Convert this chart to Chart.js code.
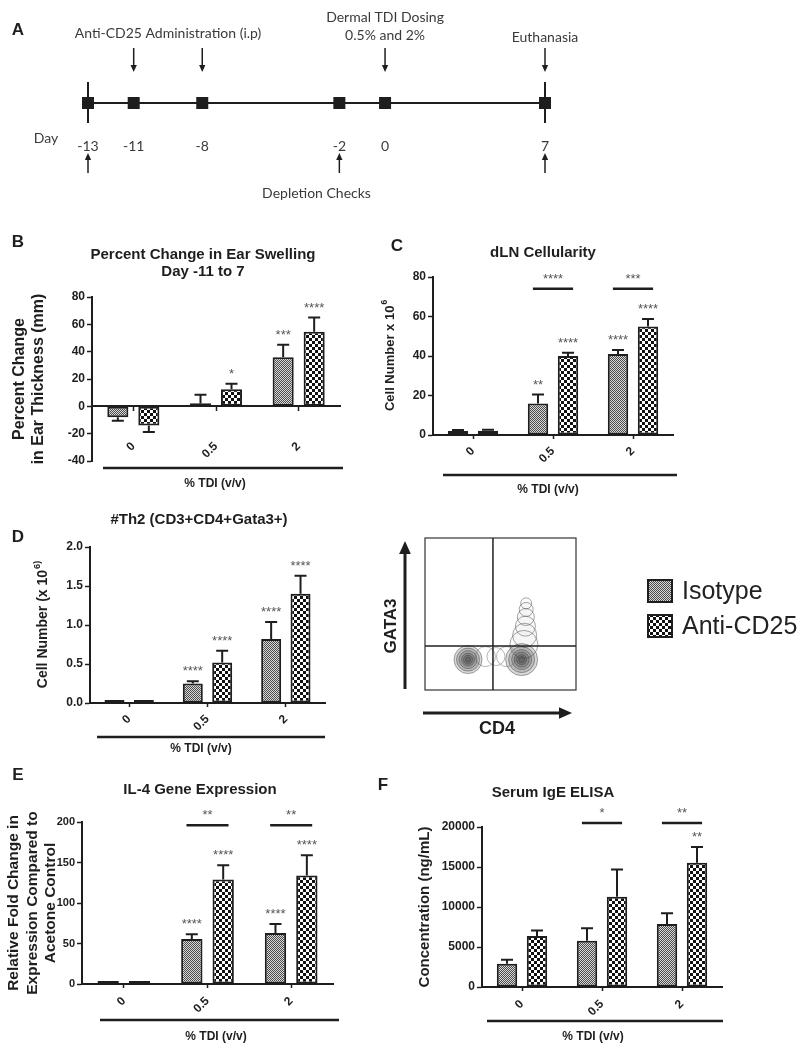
<!DOCTYPE html>
<html>
<head>
<meta charset="utf-8">
<script src="https://cdn.jsdelivr.net/npm/chart.js@4.4.1/dist/chart.umd.min.js"></script>
<style>
  html, body { margin: 0; padding: 0; background: #fff; }
  #fig { position: relative; width: 800px; height: 1048px; overflow: hidden; }
  #fig canvas { position: absolute; }
</style>
</head>
<body>
<div id="fig"></div>
<script>
// ---------- data ----------
const doses = ['0', '0.5', '2'];

// A: study timeline
const days = [-13, -11, -8, -2, 0, 7];
const antiCd25Days = [-11, -8];
const dosingDays = [0];
const euthanasiaDays = [7];
const checkDays = [-13, -2, 7];

// B: percent change in ear swelling
const swellIso = [-8, 2, 36];
const swellIsoSem = [2.5, 6.5, 9];
const swellAnti = [-14, 12.5, 54.5];
const swellAntiSem = [4.8, 4, 10.5];
const swellIsoStars = ['', '', '***'];
const swellAntiStars = ['', '*', '****'];

// C: dLN cellularity
const cellIso = [2, 16, 41];
const cellIsoSem = [0.5, 4.5, 2];
const cellAnti = [2.2, 40, 55];
const cellAntiSem = [0.5, 1.6, 3.7];
const cellIsoStars = ['', '**', '****'];
const cellAntiStars = ['', '****', '****'];
const cellSig = [{ dose: 1, y: 74, text: '****' }, { dose: 2, y: 74, text: '***' }];

// D: Th2 cells
const th2Iso = [0.01, 0.25, 0.82];
const th2IsoSem = [0, 0.03, 0.22];
const th2Anti = [0.01, 0.52, 1.40];
const th2AntiSem = [0, 0.15, 0.23];
const th2IsoStars = ['', '****', '****'];
const th2AntiStars = ['', '****', '****'];

// E: IL-4 gene expression
const il4Iso = [1, 55.5, 63];
const il4IsoSem = [0, 6, 11];
const il4Anti = [1, 129, 134];
const il4AntiSem = [0, 17.5, 25];
const il4IsoStars = ['', '****', '****'];
const il4AntiStars = ['', '****', '****'];
const il4Sig = [{ dose: 1, y: 196, text: '**' }, { dose: 2, y: 196, text: '**' }];

// F: serum IgE
const igeIso = [2900, 5770, 7880];
const igeIsoSem = [500, 1570, 1330];
const igeAnti = [6390, 11290, 15520];
const igeAntiSem = [660, 3400, 1990];
const igeIsoStars = ['', '', ''];
const igeAntiStars = ['', '', '**'];
const igeSig = [{ dose: 1, y: 20500, text: '*' }, { dose: 2, y: 20500, text: '**' }];

// flow plot populations (x = CD4, y = GATA3, scaled 0..1; r in px)
const flowGate = { x: 0.45, y: 0.29 };
const flowCd4Neg = [
  { x: 0.285, y: 0.2, r: 14 }, { x: 0.285, y: 0.2, r: 11.5 }, { x: 0.285, y: 0.2, r: 9 },
  { x: 0.285, y: 0.2, r: 6.5 }, { x: 0.285, y: 0.2, r: 4.5 }, { x: 0.285, y: 0.2, r: 2.5 }
];
const flowCd4Pos = [
  { x: 0.64, y: 0.2, r: 16 }, { x: 0.64, y: 0.2, r: 13 }, { x: 0.64, y: 0.2, r: 10 },
  { x: 0.64, y: 0.2, r: 7.5 }, { x: 0.64, y: 0.2, r: 5 }, { x: 0.64, y: 0.2, r: 3 }
];
const flowTail = [
  { x: 0.655, y: 0.30, r: 14 }, { x: 0.66, y: 0.36, r: 12 }, { x: 0.665, y: 0.42, r: 10 },
  { x: 0.668, y: 0.48, r: 8.5 }, { x: 0.67, y: 0.53, r: 7 }, { x: 0.67, y: 0.57, r: 5.5 }
];
const flowBridge = [
  { x: 0.40, y: 0.22, r: 10 }, { x: 0.47, y: 0.22, r: 9 }, { x: 0.54, y: 0.22, r: 10 }
];

// ---------- helpers ----------
const ink = '#1e1e1e';
const arial = '"Liberation Sans", Arial, sans-serif';
const bold = s => `bold ${s}px ${arial}`;
Chart.defaults.font.family = arial;
const fig = document.getElementById('fig');

function place(box) {
  const c = document.createElement('canvas');
  c.width = box[2]; c.height = box[3];
  c.style.left = box[0] + 'px'; c.style.top = box[1] + 'px';
  c.style.width = box[2] + 'px'; c.style.height = box[3] + 'px';
  fig.appendChild(c);
  return c;
}

function checker(ctx, cell, dark, light) {
  const t = document.createElement('canvas');
  t.width = t.height = cell * 2;
  const g = t.getContext('2d');
  g.fillStyle = light; g.fillRect(0, 0, cell * 2, cell * 2);
  g.fillStyle = dark; g.fillRect(0, 0, cell, cell); g.fillRect(cell, cell, cell, cell);
  return ctx.createPattern(t, 'repeat');
}
const isoFill = ctx => checker(ctx, 1, '#4a4a4a', '#dadada');
const antiFill = ctx => checker(ctx, 3, '#111', '#fff');

function txt(ctx, s, x, y, font, align, base, color) {
  ctx.font = font;
  ctx.textAlign = align || 'center';
  ctx.textBaseline = base || 'middle';
  ctx.fillStyle = color || ink;
  ctx.fillText(s, x, y);
}

// rotated text, '^' marks a superscript tail
function vText(ctx, s, x, y, size) {
  const parts = s.split('^');
  ctx.save();
  ctx.translate(x, y);
  ctx.rotate(-Math.PI / 2);
  ctx.font = bold(size);
  const w0 = ctx.measureText(parts[0]).width;
  ctx.font = bold(size * 0.65);
  const w1 = parts[1] ? ctx.measureText(parts[1]).width : 0;
  const x0 = -(w0 + w1) / 2;
  txt(ctx, parts[0], x0, 0, bold(size), 'left');
  if (parts[1]) txt(ctx, parts[1], x0 + w0 + 1, -size * 0.42, bold(size * 0.65), 'left');
  ctx.restore();
}

function arrow(ctx, x1, y1, x2, y2, lw, head) {
  const a = Math.atan2(y2 - y1, x2 - x1);
  ctx.strokeStyle = ink; ctx.fillStyle = ink; ctx.lineWidth = lw;
  ctx.beginPath();
  ctx.moveTo(x1, y1);
  ctx.lineTo(x2 - Math.cos(a) * head * 0.8, y2 - Math.sin(a) * head * 0.8);
  ctx.stroke();
  ctx.beginPath();
  ctx.moveTo(x2, y2);
  ctx.lineTo(x2 - Math.cos(a) * head - Math.sin(a) * head * 0.45, y2 - Math.sin(a) * head + Math.cos(a) * head * 0.45);
  ctx.lineTo(x2 - Math.cos(a) * head + Math.sin(a) * head * 0.45, y2 - Math.sin(a) * head - Math.cos(a) * head * 0.45);
  ctx.closePath();
  ctx.fill();
}

// ---------- A: timeline ----------
(function () {
  const box = [0, 0, 800, 215];
  const canvas = place(box);
  const tl = '#3a3a3a';
  const lato = s => `${s}px Lato, "Open Sans", sans-serif`;
  const deco = {
    id: 'timelineDeco',
    afterDraw(chart) {
      const ctx = chart.ctx, xs = chart.scales.x;
      const px = d => xs.getPixelForValue(d);
      ctx.save();
      txt(ctx, 'A', 18, 30, bold(17));
      txt(ctx, 'Day', 46, 138, lato(14), 'center', 'middle', tl);
      antiCd25Days.concat(dosingDays, euthanasiaDays).forEach(d => arrow(ctx, px(d), 48, px(d), 72, 1.5, 7));
      checkDays.forEach(d => arrow(ctx, px(d), 173, px(d), 153, 1.5, 7));
      [days[0], days[days.length - 1]].forEach(d => {
        ctx.strokeStyle = ink; ctx.lineWidth = 2;
        ctx.beginPath(); ctx.moveTo(px(d), 82); ctx.lineTo(px(d), 123); ctx.stroke();
      });
      const midAnti = (px(antiCd25Days[0]) + px(antiCd25Days[1])) / 2;
      txt(ctx, 'Anti-CD25 Administration (i.p)', midAnti, 33, lato(14), 'center', 'middle', tl);
      txt(ctx, 'Dermal TDI Dosing', px(dosingDays[0]), 17, lato(14), 'center', 'middle', tl);
      txt(ctx, '0.5% and 2%', px(dosingDays[0]), 35, lato(14), 'center', 'middle', tl);
      txt(ctx, 'Euthanasia', px(euthanasiaDays[0]), 37, lato(14), 'center', 'middle', tl);
      txt(ctx, 'Depletion Checks', (px(checkDays[0]) + px(checkDays[2])) / 2, 193, lato(14), 'center', 'middle', tl);
      ctx.restore();
    }
  };
  new Chart(canvas, {
    type: 'line',
    data: {
      datasets: [{
        data: days.map(d => ({ x: d, y: 0 })),
        borderColor: ink, borderWidth: 2,
        pointStyle: 'rect', pointRadius: 8.5,
        pointBackgroundColor: ink, pointBorderColor: ink, pointBorderWidth: 0,
        clip: false
      }]
    },
    options: {
      responsive: false, animation: false, devicePixelRatio: 1,
      layout: { padding: { left: 88, right: 255, top: 83, bottom: 0 } },
      plugins: { legend: { display: false }, tooltip: { enabled: false } },
      scales: {
        x: {
          type: 'linear', min: -13, max: 7,
          afterFit: s => { s.height = 92; },
          afterBuildTicks: s => { s.ticks = days.map(v => ({ value: v })); },
          grid: { display: false }, border: { display: false },
          ticks: { font: { family: 'Lato', size: 14 }, color: tl, padding: 7 }
        },
        y: { min: -1, max: 1, display: false }
      }
    },
    plugins: [deco]
  });
})();

// ---------- bar panels ----------
function barPanel(p) {
  const [bx, by, bw, bh] = p.box;
  const [al, at, ar, ab] = p.area;
  const canvas = place(p.box);
  const ctx0 = canvas.getContext('2d');
  const xAtZero = p.yMin < 0;
  const sems = [p.isoSem, p.antiSem];
  const stars = [p.isoStars, p.antiStars];
  const deco = {
    id: 'panelDeco',
    afterDraw(chart) {
      const ctx = chart.ctx, ys = chart.scales.y;
      ctx.save();
      // error bars and stars
      chart.data.datasets.forEach((ds, i) => {
        chart.getDatasetMeta(i).data.forEach((bar, j) => {
          const v = ds.data[j], e = sems[i][j];
          const dir = v < 0 ? -1 : 1;
          const y0 = ys.getPixelForValue(v), y1 = ys.getPixelForValue(v + dir * e);
          if (e > 0) {
            ctx.strokeStyle = ink; ctx.lineWidth = 2;
            ctx.beginPath();
            ctx.moveTo(bar.x, y0); ctx.lineTo(bar.x, y1);
            ctx.moveTo(bar.x - 6, y1); ctx.lineTo(bar.x + 6, y1);
            ctx.stroke();
          }
          if (stars[i][j]) txt(ctx, stars[i][j], bar.x, y1 - 6, `13px ${arial}`, 'center', 'alphabetic', '#555');
        });
      });
      // significance bars
      (p.sig || []).forEach(s => {
        const a = chart.getDatasetMeta(0).data[s.dose], b = chart.getDatasetMeta(1).data[s.dose];
        const x1 = a.x - a.width / 4, x2 = b.x + b.width / 4, y = ys.getPixelForValue(s.y);
        ctx.strokeStyle = ink; ctx.lineWidth = 2.5;
        ctx.beginPath(); ctx.moveTo(x1, y); ctx.lineTo(x2, y); ctx.stroke();
        txt(ctx, s.text, (x1 + x2) / 2, y - 6, `13px ${arial}`, 'center', 'alphabetic', '#555');
      });
      // page-positioned labels
      ctx.translate(-bx, -by);
      txt(ctx, p.letter[0], p.letter[1], p.letter[2], bold(17));
      p.title.forEach((t, k) => txt(ctx, t, p.titleX, p.titleY[k], bold(15)));
      p.yTitle.forEach((t, k) => vText(ctx, t, p.yTitleX[k], (at + ab) / 2, p.yTitleSize));
      ctx.strokeStyle = ink; ctx.lineWidth = 2.5;
      ctx.beginPath(); ctx.moveTo(p.rule[1], p.rule[0]); ctx.lineTo(p.rule[2], p.rule[0]); ctx.stroke();
      txt(ctx, '% TDI (v/v)', p.xTitle[0], p.xTitle[1], bold(12));
      ctx.restore();
    }
  };
  const tickSize = p.tickSize || 12;
  new Chart(canvas, {
    type: 'bar',
    data: {
      labels: doses,
      datasets: [
        { label: 'Isotype', data: p.iso, backgroundColor: isoFill(ctx0), borderColor: ink, borderWidth: 2, borderSkipped: false, minBarLength: 3 },
        { label: 'Anti-CD25', data: p.anti, backgroundColor: antiFill(ctx0), borderColor: ink, borderWidth: 2, borderSkipped: false, minBarLength: 3 }
      ]
    },
    options: {
      responsive: false, animation: false, devicePixelRatio: 1,
      layout: { padding: { left: 0, top: at - by, right: bx + bw - ar, bottom: xAtZero ? by + bh - ab : 0 } },
      plugins: { legend: { display: false }, tooltip: { enabled: false } },
      datasets: { bar: { categoryPercentage: 0.75, barPercentage: 0.68 } },
      scales: {
        x: {
          position: xAtZero ? { y: 0 } : 'bottom',
          afterFit: s => { if (!xAtZero) s.height = by + bh - ab; },
          grid: { drawOnChartArea: false, drawTicks: true, tickLength: 4, tickWidth: 1.5, color: ink, offset: false },
          border: { display: true, color: ink, width: 2 },
          ticks: { font: { size: 12, weight: 'bold' }, color: ink, minRotation: 45, maxRotation: 45, padding: p.xPad }
        },
        y: {
          min: p.yMin, max: p.yMax,
          afterFit: s => { s.width = al - bx; },
          ticks: { stepSize: p.step, font: { size: tickSize, weight: 'bold' }, color: ink, padding: 2, callback: p.fmt || (v => String(v)) },
          grid: { drawOnChartArea: false, tickLength: 5, tickWidth: 1.5, color: ink },
          border: { color: ink, width: 2 }
        }
      }
    },
    plugins: [deco]
  });
}

barPanel({
  box: [0, 215, 375, 285], area: [92, 297, 340, 461],
  yMin: -40, yMax: 80, step: 20, xPad: 29,
  iso: swellIso, isoSem: swellIsoSem, anti: swellAnti, antiSem: swellAntiSem,
  isoStars: swellIsoStars, antiStars: swellAntiStars,
  letter: ['B', 18, 242],
  title: ['Percent Change in Ear Swelling', 'Day -11 to 7'], titleX: 203, titleY: [255, 272],
  yTitle: ['Percent Change', 'in Ear Thickness (mm)'], yTitleX: [20, 39], yTitleSize: 16,
  rule: [468, 103, 343], xTitle: [215, 484]
});

barPanel({
  box: [375, 215, 425, 285], area: [433, 277, 673, 435],
  yMin: 0, yMax: 80, step: 20, xPad: 5,
  iso: cellIso, isoSem: cellIsoSem, anti: cellAnti, antiSem: cellAntiSem,
  isoStars: cellIsoStars, antiStars: cellAntiStars, sig: cellSig,
  letter: ['C', 397, 246],
  title: ['dLN Cellularity'], titleX: 543, titleY: [253],
  yTitle: ['Cell Number x 10^6'], yTitleX: [390], yTitleSize: 13,
  rule: [475, 443, 677], xTitle: [548, 490]
});

barPanel({
  box: [0, 500, 380, 260], area: [90, 547, 325, 703],
  yMin: 0, yMax: 2, step: 0.5, xPad: 5, fmt: v => v.toFixed(1),
  iso: th2Iso, isoSem: th2IsoSem, anti: th2Anti, antiSem: th2AntiSem,
  isoStars: th2IsoStars, antiStars: th2AntiStars,
  letter: ['D', 18, 537],
  title: ['#Th2 (CD3+CD4+Gata3+)'], titleX: 199, titleY: [520],
  yTitle: ['Cell Number (x 10^6)'], yTitleX: [43], yTitleSize: 14,
  rule: [737, 97, 325], xTitle: [201, 749]
});

barPanel({
  box: [0, 760, 375, 288], area: [82, 822, 333, 984],
  yMin: 0, yMax: 200, step: 50, xPad: 6, tickSize: 11,
  iso: il4Iso, isoSem: il4IsoSem, anti: il4Anti, antiSem: il4AntiSem,
  isoStars: il4IsoStars, antiStars: il4AntiStars, sig: il4Sig,
  letter: ['E', 18, 775],
  title: ['IL-4 Gene Expression'], titleX: 200, titleY: [790],
  yTitle: ['Relative Fold Change in', 'Expression Compared to', 'Acetone Control'], yTitleX: [14, 33, 51], yTitleSize: 15.5,
  rule: [1020, 100, 339], xTitle: [216, 1037]
});

barPanel({
  box: [375, 760, 425, 288], area: [482, 827, 722, 987],
  yMin: 0, yMax: 20000, step: 5000, xPad: 6,
  iso: igeIso, isoSem: igeIsoSem, anti: igeAnti, antiSem: igeAntiSem,
  isoStars: igeIsoStars, antiStars: igeAntiStars, sig: igeSig,
  letter: ['F', 383, 785],
  title: ['Serum IgE ELISA'], titleX: 553, titleY: [793],
  yTitle: ['Concentration (ng/mL)'], yTitleX: [425], yTitleSize: 15,
  rule: [1021, 487, 723], xTitle: [593, 1037]
});

// ---------- D (right): flow plot + legend ----------
(function () {
  const box = [380, 500, 420, 260];
  const canvas = place(box);
  const ctx0 = canvas.getContext('2d');
  const legIso = isoFill(ctx0), legAnti = antiFill(ctx0);
  const ring = (data, fill, line) => ({ data, backgroundColor: fill, borderColor: line, borderWidth: 0.8, clip: false });
  const deco = {
    id: 'flowDeco',
    afterDraw(chart) {
      const ctx = chart.ctx, a = chart.chartArea, xs = chart.scales.x, ys = chart.scales.y;
      ctx.save();
      ctx.strokeStyle = '#333'; ctx.lineWidth = 1.2;
      ctx.strokeRect(a.left, a.top, a.right - a.left, a.bottom - a.top);
      ctx.strokeStyle = '#222'; ctx.lineWidth = 1.5;
      ctx.beginPath();
      ctx.moveTo(xs.getPixelForValue(flowGate.x), a.top); ctx.lineTo(xs.getPixelForValue(flowGate.x), a.bottom);
      ctx.moveTo(a.left, ys.getPixelForValue(flowGate.y)); ctx.lineTo(a.right, ys.getPixelForValue(flowGate.y));
      ctx.stroke();
      ctx.translate(-box[0], -box[1]);
      arrow(ctx, 405, 689, 405, 541, 3, 13);
      arrow(ctx, 423, 713, 572, 713, 3, 13);
      vText(ctx, 'GATA3', 391, 626, 17);
      txt(ctx, 'CD4', 497, 729, bold(18));
      [[legIso, 580, 'Isotype'], [legAnti, 615, 'Anti-CD25']].forEach(([fill, y, label]) => {
        ctx.save();
        ctx.translate(box[0], box[1]);
        ctx.fillStyle = fill;
        ctx.fillRect(648 - box[0], y - box[1], 24, 22);
        ctx.restore();
        ctx.strokeStyle = ink; ctx.lineWidth = 2;
        ctx.strokeRect(648, y, 24, 22);
        txt(ctx, label, 682, y + 12, `25px ${arial}`, 'left', 'middle', '#222');
      });
      ctx.restore();
    }
  };
  new Chart(canvas, {
    type: 'bubble',
    data: {
      datasets: [
        ring(flowBridge, 'rgba(0,0,0,0)', 'rgba(90,90,90,0.55)'),
        ring(flowTail, 'rgba(0,0,0,0.02)', 'rgba(70,70,70,0.6)'),
        ring(flowCd4Neg, 'rgba(30,30,30,0.17)', 'rgba(50,50,50,0.55)'),
        ring(flowCd4Pos, 'rgba(30,30,30,0.17)', 'rgba(50,50,50,0.55)')
      ]
    },
    options: {
      responsive: false, animation: false, devicePixelRatio: 1,
      layout: { padding: { left: 45, top: 38, right: 224, bottom: 70 } },
      plugins: { legend: { display: false }, tooltip: { enabled: false } },
      scales: { x: { min: 0, max: 1, display: false }, y: { min: 0, max: 1, display: false } }
    },
    plugins: [deco]
  });
})();
</script>
</body>
</html>
